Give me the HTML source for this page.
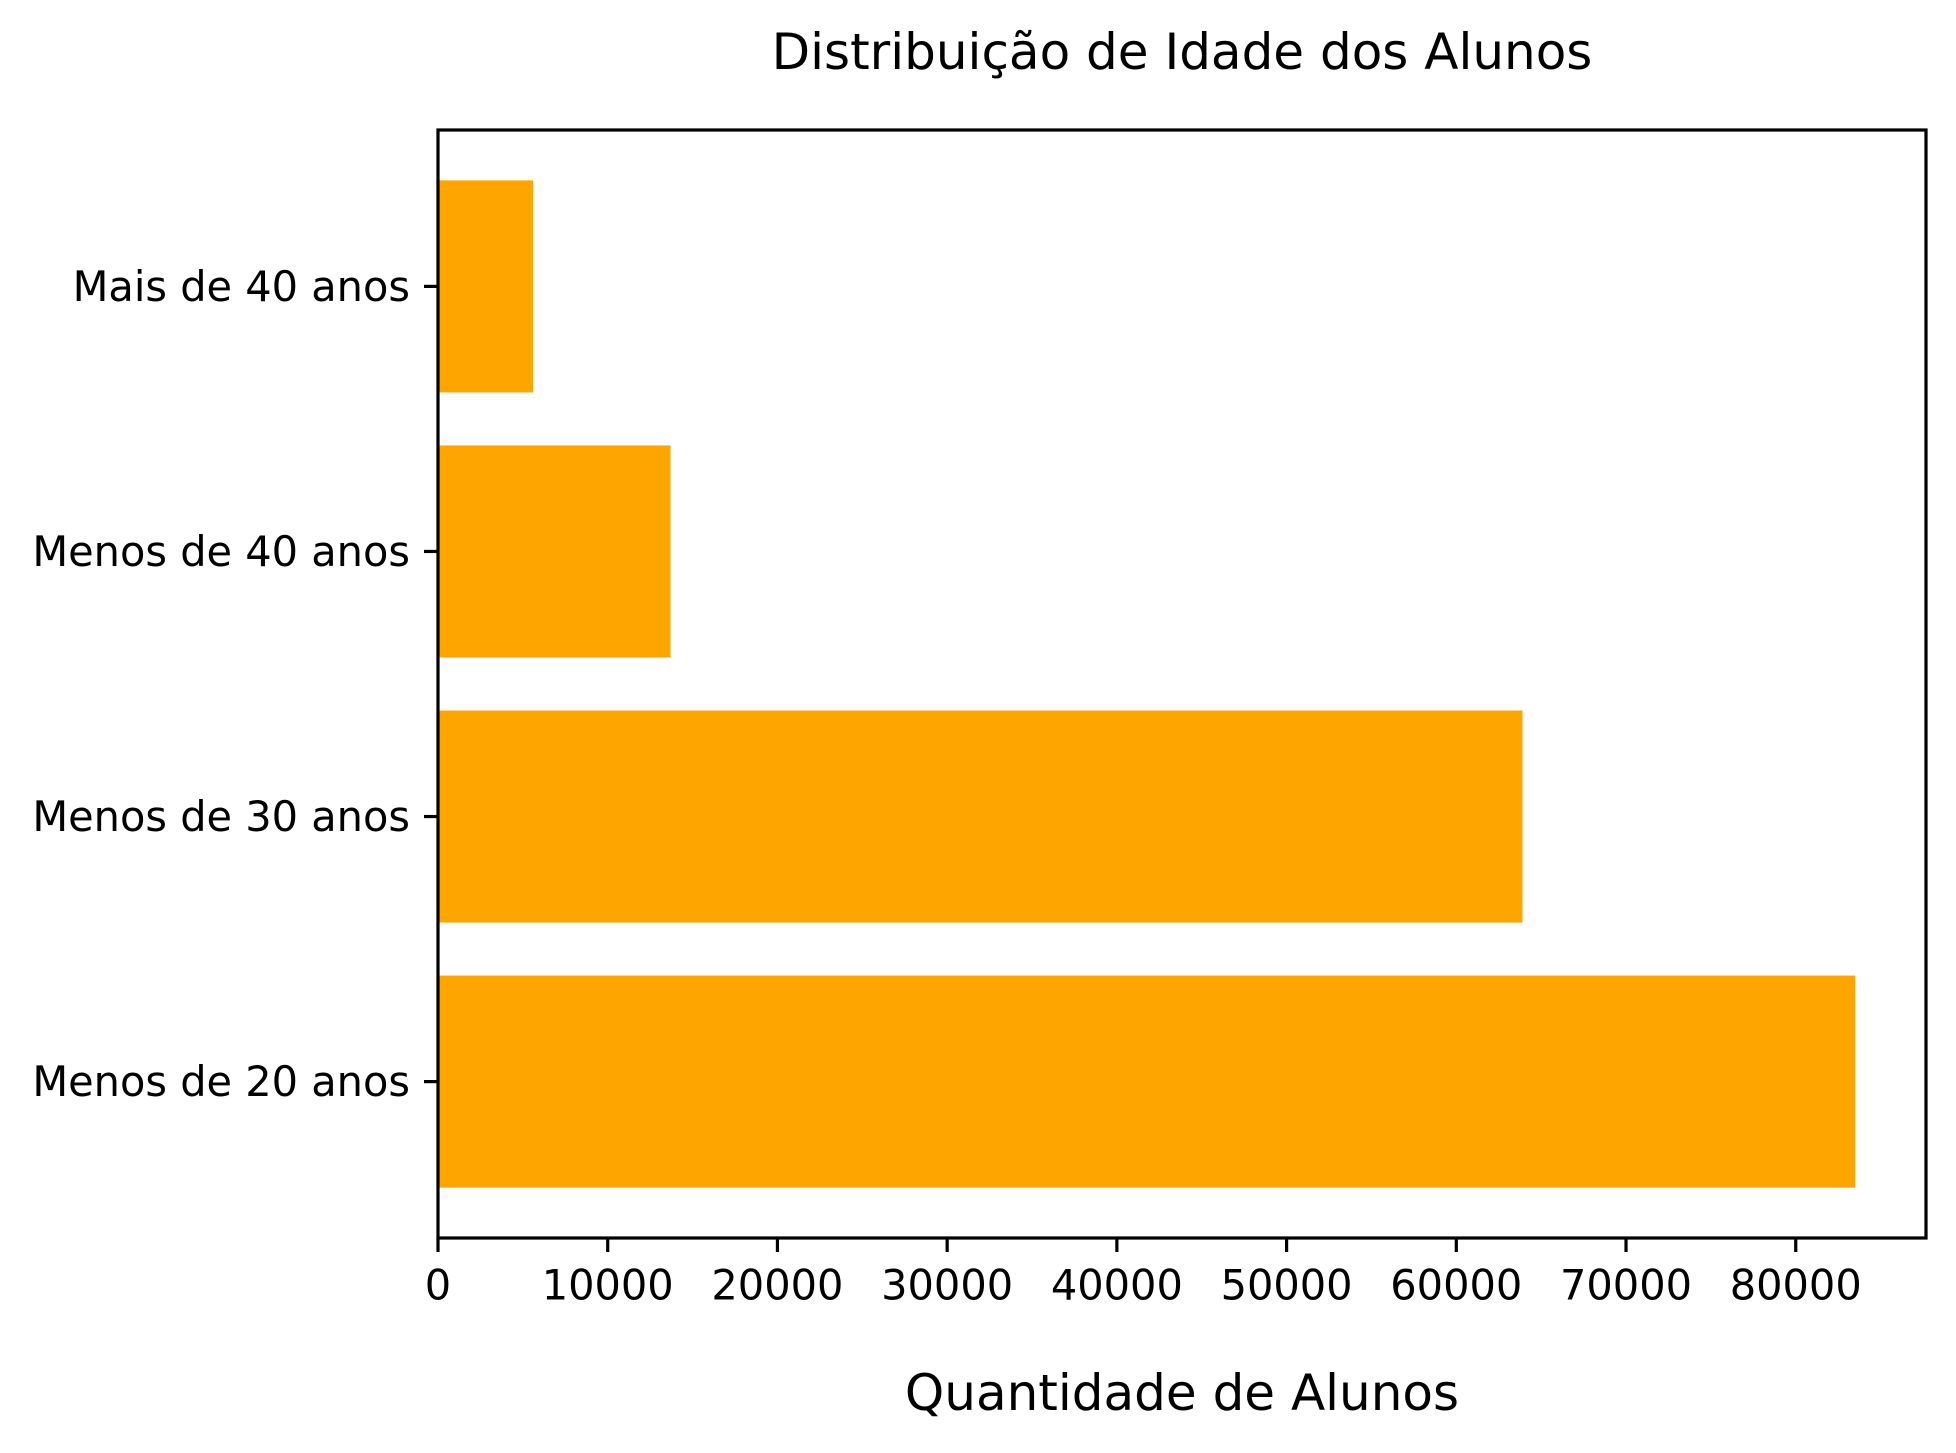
<!DOCTYPE html>
<html><head><meta charset="utf-8"><style>
html,body{margin:0;padding:0;background:#fff;}
svg text{font-family:"DejaVu Sans","Liberation Sans",sans-serif;fill:#000;}
</style></head><body>
<svg id="chart" width="1956" height="1448" viewBox="0 0 1956 1448" xmlns="http://www.w3.org/2000/svg">
<rect width="1956" height="1448" fill="#fff"/>
<text x="1182" y="52" font-size="50" text-anchor="middle" dominant-baseline="central">Distribuição de Idade dos Alunos</text>
<g id="bars"></g>
<g id="xticks"></g>
<g id="yticks"></g>
<rect x="438" y="130" width="1488" height="1108" fill="none" stroke="#000" stroke-width="3.2"/>
<text x="1182" y="1393" font-size="50" text-anchor="middle" dominant-baseline="central">Quantidade de Alunos</text>
</svg>
<script>
const categories = ["Menos de 20 anos", "Menos de 30 anos", "Menos de 40 anos", "Mais de 40 anos"];
const values = [83500, 63900, 13700, 5600];
const xTicks = [0, 10000, 20000, 30000, 40000, 50000, 60000, 70000, 80000];

const NS = "http://www.w3.org/2000/svg";
const L = 438, R = 1926, T = 130, B = 1238;
const xMax = Math.max(...values) * 1.05;
const x = v => L + v / xMax * (R - L);
const yMin = -0.59, yMax = categories.length - 1 + 0.59;
const y = i => B - (i - yMin) / (yMax - yMin) * (B - T);
const bh = 0.8 * (B - T) / (yMax - yMin);
function mk(tag, attrs) { const e = document.createElementNS(NS, tag); for (const k in attrs) e.setAttribute(k, attrs[k]); return e; }
const gb = document.getElementById('bars'), gx = document.getElementById('xticks'), gy = document.getElementById('yticks');
values.forEach((v, i) => {
  const r = mk('rect', {x: x(0), y: y(i) - bh / 2, width: x(v) - x(0), height: bh, fill: '#ffa500'});
  
  
  gb.appendChild(r);
  const t = mk('line', {x1: L - 14, x2: L, y1: y(i), y2: y(i), stroke: '#000', 'stroke-width': 3.2});
  
  
  gy.appendChild(t);
  const lb = mk('text', {x: L - 28, y: y(i), 'font-size': 41.5, 'text-anchor': 'end', 'dominant-baseline': 'central'});
  lb.textContent = categories[i];
  
  
  gy.appendChild(lb);
});
xTicks.forEach(v => {
  const t = mk('line', {x1: x(v), x2: x(v), y1: B, y2: B + 14, stroke: '#000', 'stroke-width': 3.2});
  
  
  gx.appendChild(t);
  const lb = mk('text', {x: x(v), y: 1285, 'font-size': 41.5, 'text-anchor': 'middle', 'dominant-baseline': 'central'});
  lb.textContent = v;
  
  
  gx.appendChild(lb);
});
</script>
</body></html>
